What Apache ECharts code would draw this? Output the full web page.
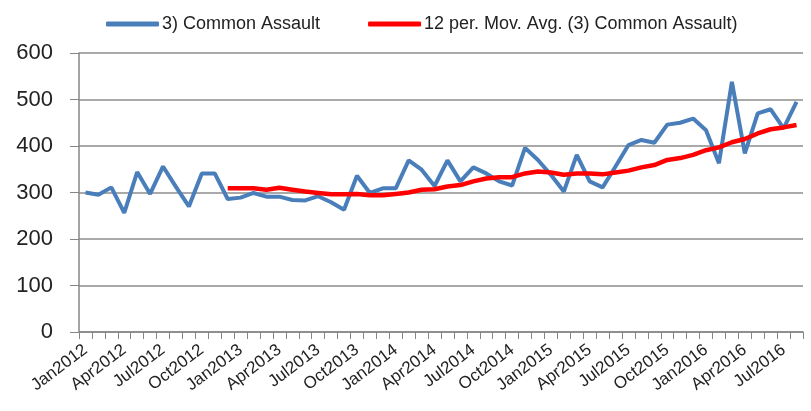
<!DOCTYPE html>
<html>
<head>
<meta charset="utf-8">
<script src="https://cdn.jsdelivr.net/npm/echarts@6/dist/echarts.min.js"></script>
<style>
html,body{margin:0;padding:0;background:#fff;}
#main{width:811px;height:411px;}
</style>
</head>
<body>
<div id="main"></div>
<script>
var months = [
  "Jan2012","Feb2012","Mar2012","Apr2012","May2012","Jun2012","Jul2012","Aug2012","Sep2012","Oct2012","Nov2012","Dec2012",
  "Jan2013","Feb2013","Mar2013","Apr2013","May2013","Jun2013","Jul2013","Aug2013","Sep2013","Oct2013","Nov2013","Dec2013",
  "Jan2014","Feb2014","Mar2014","Apr2014","May2014","Jun2014","Jul2014","Aug2014","Sep2014","Oct2014","Nov2014","Dec2014",
  "Jan2015","Feb2015","Mar2015","Apr2015","May2015","Jun2015","Jul2015","Aug2015","Sep2015","Oct2015","Nov2015","Dec2015",
  "Jan2016","Feb2016","Mar2016","Apr2016","May2016","Jun2016","Jul2016","Aug2016"
];
var commonAssault = [
  300,295,311,256,344,297,356,312,270,341,341,286,
  289,299,291,291,284,283,292,279,263,336,299,309,
  309,369,349,314,369,324,354,341,324,315,396,370,
  338,302,381,324,311,356,402,413,407,446,450,459,
  434,363,538,384,470,479,438,495
];
var movAvg = [
  null,null,null,null,null,null,null,null,null,null,null,309,
  309,309,306,310,306,302,299,296,296,297,294,294,
  297,300,306,307,313,316,324,330,333,333,341,345,
  343,338,341,341,339,343,347,354,359,370,374,381,
  391,397,408,415,427,436,440,445
];
var yTicks = [0,100,200,300,400,500,600];

var chart = echarts.init(document.getElementById("main"));
var font = "'Liberation Sans',Arial,sans-serif";
var option = {
  animation: false,
  textStyle: { fontFamily: font },
  legend: {
    top: 10,
    left: 101,
    itemGap: 48,
    itemWidth: 53,
    itemHeight: 5,
    icon: "roundRect",
    textStyle: { fontSize: 18, color: "#222", fontFamily: font, padding: [0, 0, 0, -2] },
    data: ["3) Common Assault", "12 per. Mov. Avg. (3) Common Assault)"]
  },
  grid: { left: 79, right: 8, top: 53, bottom: 79 },
  xAxis: {
    type: "category",
    data: months,
    boundaryGap: true,
    axisLine: { lineStyle: { color: "#868686", width: 1.5 } },
    axisTick: { show: true, interval: 0, length: 7, lineStyle: { color: "#868686" } },
    axisLabel: {
      interval: 2,
      rotate: 37,
      fontSize: 17,
      color: "#222",
      margin: 16,
      fontFamily: font
    }
  },
  yAxis: {
    type: "value",
    min: yTicks[0],
    max: yTicks[yTicks.length - 1],
    interval: 100,
    axisLine: { show: true, lineStyle: { color: "#868686", width: 1.5 } },
    axisTick: { show: true, length: 9, lineStyle: { color: "#868686" } },
    splitLine: { lineStyle: { color: "#8c8c8c", width: 1.5 } },
    axisLabel: { fontSize: 22, color: "#222", margin: 26, fontFamily: font }
  },
  series: [
    {
      name: "3) Common Assault",
      type: "line",
      data: commonAssault,
      symbol: "none",
      color: "#4a7ebb",
      lineStyle: { color: "#4a7ebb", width: 4 },
      z: 2
    },
    {
      name: "12 per. Mov. Avg. (3) Common Assault)",
      type: "line",
      data: movAvg,
      symbol: "none",
      color: "#ff0000",
      lineStyle: { color: "#ff0000", width: 4.5 },
      z: 3
    }
  ]
};
chart.setOption(option);
</script>
</body>
</html>
